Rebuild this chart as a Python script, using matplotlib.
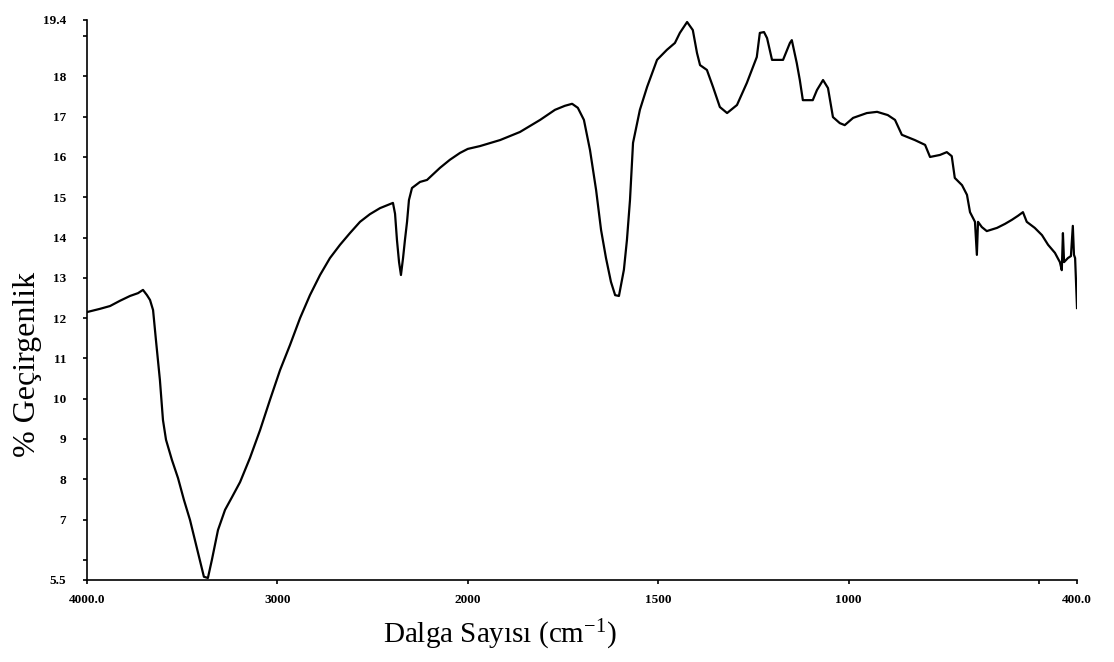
"""
FTIR spectrum plot
==================

Transmittance spectrum with the usual scale change at 2000 cm-1
(the 4000-2000 region is compressed by a factor of two).
"""

import numpy as np
import matplotlib
matplotlib.use('Agg')
import matplotlib.pyplot as plt

# Wavenumber (cm-1) and % transmittance
wavenumber = [
    4000, 3932, 3879, 3827, 3774, 3732, 3706, 3685, 3669, 3653,
    3638, 3617, 3601, 3585, 3554, 3522, 3491, 3459, 3433, 3407,
    3386, 3365, 3344, 3312, 3275, 3238, 3196, 3144, 3091, 3039,
    2986, 2934, 2881, 2829, 2776, 2724, 2671, 2619, 2566, 2514,
    2461, 2419, 2393, 2382, 2372, 2361, 2351, 2340, 2330, 2319,
    2309, 2293, 2251, 2214, 2146, 2094, 2041, 2000,
    1968, 1915, 1863, 1810, 1771, 1745, 1726, 1711, 1695, 1679,
    1663, 1650, 1637, 1624, 1613, 1603, 1590, 1582, 1574, 1566,
    1548, 1529, 1503, 1477, 1456, 1443, 1424, 1409, 1398, 1390,
    1372, 1356, 1338, 1319, 1293, 1267, 1241, 1233, 1222, 1214,
    1201, 1172, 1154, 1149, 1136, 1128, 1120, 1094, 1083, 1067,
    1054, 1041, 1023, 1010, 988, 952, 925, 897, 878, 860,
    826, 799, 786, 760, 742, 729, 721, 702, 689, 681,
    668, 663, 660, 650, 637, 610, 589, 571, 555, 542,
    532, 511, 492, 476, 458, 445, 440, 437, 434, 424,
    416, 411, 408, 405, 400,
]
transmittance = [
    12.15, 12.23, 12.30, 12.43, 12.55, 12.62, 12.70, 12.57, 12.45, 12.20,
    11.46, 10.46, 9.47, 8.98, 8.48, 8.03, 7.49, 6.99, 6.49, 6.00,
    5.58, 5.55, 6.00, 6.74, 7.24, 7.56, 7.93, 8.53, 9.22, 9.97,
    10.71, 11.33, 12.00, 12.57, 13.07, 13.49, 13.82, 14.11, 14.39, 14.58,
    14.73, 14.81, 14.86, 14.59, 13.94, 13.39, 13.07, 13.49, 13.94, 14.39,
    14.93, 15.23, 15.38, 15.43, 15.73, 15.93, 16.10, 16.20,
    16.27, 16.42, 16.62, 16.92, 17.17, 17.27, 17.32, 17.22, 16.92, 16.17,
    15.18, 14.19, 13.49, 12.90, 12.57, 12.55, 13.20, 13.94, 14.93, 16.35,
    17.17, 17.74, 18.41, 18.66, 18.83, 19.08, 19.35, 19.15, 18.58, 18.28,
    18.16, 17.74, 17.24, 17.09, 17.29, 17.84, 18.48, 19.08, 19.10, 18.95,
    18.41, 18.41, 18.83, 18.90, 18.33, 17.91, 17.41, 17.41, 17.66, 17.91,
    17.71, 16.99, 16.84, 16.79, 16.97, 17.09, 17.12, 17.04, 16.92, 16.55,
    16.42, 16.30, 16.00, 16.05, 16.12, 16.02, 15.48, 15.30, 15.06, 14.63,
    14.39, 13.57, 14.39, 14.26, 14.16, 14.24, 14.34, 14.44, 14.54, 14.63,
    14.39, 14.24, 14.06, 13.82, 13.62, 13.39, 13.19, 14.11, 13.39, 13.49,
    13.54, 14.29, 13.57, 13.49, 12.25,
]

x_ticks = [4000, 3000, 2000, 1500, 1000, 500, 400]
x_tick_labels = ['4000.0', '3000', '2000', '1500', '1000', '', '400.0']
y_ticks = [5.5, 6, 7, 8, 9, 10, 11, 12, 13, 14, 15, 16, 17, 18, 19, 19.4]
y_tick_labels = ['5.5', '', '7', '8', '9', '10', '11', '12', '13', '14',
                 '15', '16', '17', '18', '', '19.4']

SERIF = ['Liberation Serif', 'DejaVu Serif']


def forward(x):
    x = np.asarray(x, dtype=float)
    return np.where(x > 2000, 2000 + (x - 2000) / 2.0, x)


def inverse(p):
    p = np.asarray(p, dtype=float)
    return np.where(p > 2000, 2000 + 2.0 * (p - 2000), p)


def main():
    plt.rcParams['mathtext.fontset'] = 'custom'
    plt.rcParams['mathtext.rm'] = 'Liberation Serif'

    fig = plt.figure(figsize=(11.14, 6.62), dpi=100)
    ax = fig.add_axes([0.0781, 0.1239, 0.8887, 0.8459])

    ax.plot(wavenumber, transmittance, color='black', linewidth=1.6)

    ax.set_xscale('function', functions=(forward, inverse))
    ax.set_xlim(4000, 400)
    ax.set_ylim(5.5, 19.4)

    ax.set_xticks(x_ticks)
    ax.set_xticklabels(x_tick_labels)
    ax.set_yticks(y_ticks)
    ax.set_yticklabels(y_tick_labels)
    ax.minorticks_off()

    for lab in ax.get_xticklabels() + ax.get_yticklabels():
        lab.set_family(SERIF)
        lab.set_fontweight('bold')
        lab.set_fontsize(9.5)
    ax.tick_params(axis='both', direction='out', length=3, width=1.2,
                   color='black', pad=7)
    ax.tick_params(axis='y', pad=12)

    ax.spines['top'].set_visible(False)
    ax.spines['right'].set_visible(False)
    ax.spines['left'].set_linewidth(1.2)
    ax.spines['bottom'].set_linewidth(1.2)

    fig.text(0.449, 0.041, 'Dalga Sayısı (cm$\\mathregular{^{-1}}$)',
             family=SERIF, fontsize=21, ha='center', va='center')
    fig.text(0.025, 0.449, '% Geçirgenlik', family=SERIF, fontsize=23,
             rotation=90, ha='center', va='center')

    fig.savefig('out.png', dpi=100, facecolor='white')
    plt.close(fig)


if __name__ == '__main__':
    main()
